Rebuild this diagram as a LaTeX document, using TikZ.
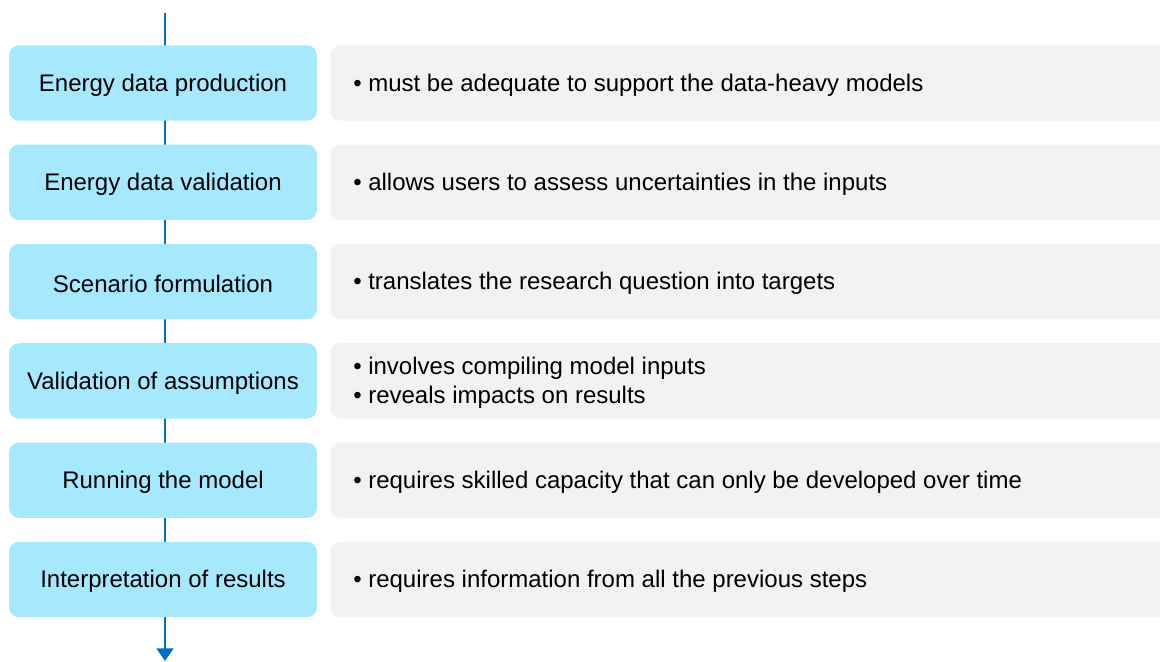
\documentclass[tikz,border=0pt]{standalone}
\usepackage{fontspec}
\setmainfont{Liberation Sans}
\usetikzlibrary{arrows.meta}
\definecolor{stepblue}{HTML}{A6E9FF}
\definecolor{descgrey}{HTML}{F2F2F2}
\definecolor{flowline}{HTML}{0070C0}
\begin{document}
\begin{tikzpicture}[x=0.75pt,y=-0.75pt,
  stepbox/.style={fill=stepblue, rounded corners=7.5pt, minimum width=231pt, minimum height=56.5pt, inner sep=0pt, align=center},
  steptext/.style={inner sep=0pt, align=center, font=\fontsize{18}{21.75}\selectfont, yshift=-1.5pt},
  descbox/.style={fill=descgrey, rounded corners=7.5pt, minimum width=660pt, minimum height=56.5pt, inner sep=0pt},
  desctext/.style={anchor=west, align=left, inner sep=0pt, font=\fontsize{18}{21.75}\selectfont, yshift=-1.5pt},
  flow/.style={draw=flowline, line width=2.2pt}]
\useasboundingbox (0,0) rectangle (1160,661);
\clip (0,0) rectangle (1160,661);
\coordinate (top) at (165,13);
\coordinate (bot) at (165,661);
\draw[flow, -{Triangle[width=12.5pt,length=9.5pt]}] (top) -- (bot);
\foreach \i/\st/\ds in {
  0/{Energy data production}/{• must be adequate to support the data-heavy models},
  1/{Energy data validation}/{• allows users to assess uncertainties in the inputs},
  2/{Scenario formulation}/{• translates the research question into targets},
  3/{Validation of assumptions}/{• involves compiling model inputs\\• reveals impacts on results},
  4/{Running the model}/{• requires skilled capacity that can only be developed over time},
  5/{Interpretation of results}/{• requires information from all the previous steps}}{
  \node[stepbox] (s\i) at (163, 83+99.3*\i) {};
  \node[steptext] (l\i) at (s\i.center) {\st};
  \node[descbox, anchor=west] (d\i) at (330, 83+99.3*\i) {};
  \node[desctext] (t\i) at (353, 83+99.3*\i) {\ds};
}
\end{tikzpicture}
\end{document}
